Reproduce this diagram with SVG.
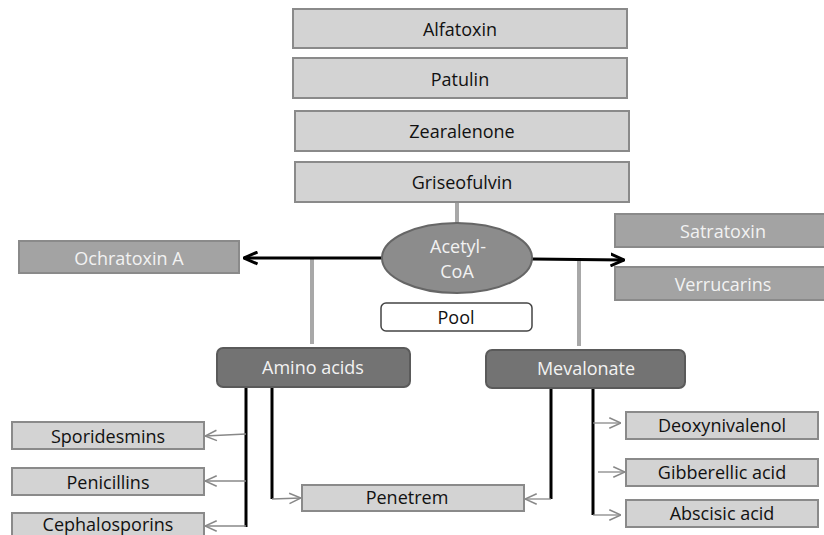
<svg xmlns="http://www.w3.org/2000/svg" width="824" height="535" viewBox="0 0 824 535">
<defs>
<style>
text{font-family:"Open Sans","Liberation Sans",sans-serif;font-size:18px;text-anchor:middle;dominant-baseline:central}
.lt{fill:#d3d3d3;stroke:#8a8a8a;stroke-width:2}
.md{fill:#a3a3a3;stroke:#8a8a8a;stroke-width:2}
.dk{fill:#737373;stroke:#5a5a5a;stroke-width:2}
.pool{fill:#fff;stroke:#444;stroke-width:1.5}
.tb{fill:#111}
.tw{fill:#f2f2f2}
.blk{stroke:#000;stroke-width:3;fill:none}
.gry{stroke:#a8a8a8;stroke-width:4;fill:none}
.thin{stroke:#888;stroke-width:1.3;fill:none}
</style>
<marker id="ab" viewBox="0 0 10 10" refX="9" refY="5" markerWidth="5" markerHeight="5" orient="auto-start-reverse" markerUnits="strokeWidth"><path d="M0,1 L9,5 L0,9" fill="none" stroke="#000" stroke-width="2"/></marker>
<marker id="ag" viewBox="0 0 10 10" refX="10" refY="5" markerWidth="10" markerHeight="10" orient="auto" markerUnits="strokeWidth"><path d="M1,1 L10,5 L1,9" fill="none" stroke="#888" stroke-width="1.2"/></marker>
</defs>
<g id="connectors">
<line class="gry" x1="457" y1="202" x2="457" y2="224"/>
<line class="gry" x1="312" y1="258" x2="312" y2="344"/>
<line class="gry" x1="579" y1="259" x2="579" y2="346"/>
<line class="blk" x1="382" y1="258" x2="244" y2="258" marker-end="url(#ab)"/>
<line class="blk" x1="532" y1="259" x2="624" y2="260" marker-end="url(#ab)"/>
<line class="blk" x1="246" y1="387" x2="246" y2="527"/>
<line class="blk" x1="272" y1="387" x2="272" y2="499"/>
<line class="blk" x1="551" y1="388" x2="551" y2="499"/>
<line class="blk" x1="593" y1="389" x2="593" y2="515"/>
<line class="thin" x1="246" y1="434" x2="205" y2="436" marker-end="url(#ag)"/>
<line class="thin" x1="246" y1="481" x2="205" y2="481" marker-end="url(#ag)"/>
<line class="thin" x1="246" y1="526" x2="205" y2="526" marker-end="url(#ag)"/>
<line class="thin" x1="272" y1="499" x2="301" y2="498" marker-end="url(#ag)"/>
<line class="thin" x1="551" y1="499" x2="525" y2="499" marker-end="url(#ag)"/>
<line class="thin" x1="593" y1="423" x2="621" y2="423" marker-end="url(#ag)"/>
<line class="thin" x1="598" y1="472" x2="625" y2="472" marker-end="url(#ag)"/>
<line class="thin" x1="593" y1="515" x2="621" y2="515" marker-end="url(#ag)"/>
</g>
<g id="alfatoxin"><rect class="lt" x="293" y="9" width="334" height="39"/><text class="tb" x="460" y="29">Alfatoxin</text></g>
<g id="patulin"><rect class="lt" x="293" y="58" width="334" height="40"/><text class="tb" x="460" y="79">Patulin</text></g>
<g id="zearalenone"><rect class="lt" x="295" y="111" width="334" height="40"/><text class="tb" x="462" y="131">Zearalenone</text></g>
<g id="griseofulvin"><rect class="lt" x="295" y="162" width="334" height="40"/><text class="tb" x="462" y="182">Griseofulvin</text></g>
<g id="acetylcoa"><ellipse cx="457" cy="258" rx="75" ry="35" fill="#8c8c8c" stroke="#666" stroke-width="2"/><text class="tw" x="458" y="246">Acetyl-</text><text class="tw" x="457" y="271">CoA</text></g>
<g id="ochratoxin"><rect class="md" x="19" y="241" width="220" height="32"/><text class="tw" x="129" y="258">Ochratoxin A</text></g>
<g id="satratoxin"><rect class="md" x="615" y="214" width="212" height="33"/><text class="tw" x="723" y="231">Satratoxin</text></g>
<g id="verrucarins"><rect class="md" x="615" y="267" width="212" height="33"/><text class="tw" x="723" y="284">Verrucarins</text></g>
<g id="pool"><rect class="pool" x="381" y="303" width="151" height="28" rx="5"/><text class="tb" x="456" y="317">Pool</text></g>
<g id="aminoacids"><rect class="dk" x="217" y="348" width="193" height="39" rx="6"/><text class="tw" x="313" y="367">Amino acids</text></g>
<g id="mevalonate"><rect class="dk" x="486" y="350" width="199" height="38" rx="6"/><text class="tw" x="586" y="368">Mevalonate</text></g>
<g id="sporidesmins"><rect class="lt" x="12" y="422" width="192" height="27"/><text class="tb" x="108" y="436">Sporidesmins</text></g>
<g id="penicillins"><rect class="lt" x="12" y="468" width="192" height="27"/><text class="tb" x="108" y="482">Penicillins</text></g>
<g id="cephalosporins"><rect class="lt" x="12" y="513" width="192" height="27"/><text class="tb" x="108" y="524">Cephalosporins</text></g>
<g id="penetrem"><rect class="lt" x="302" y="485" width="222" height="26"/><text class="tb" x="407" y="497">Penetrem</text></g>
<g id="deoxynivalenol"><rect class="lt" x="626" y="412" width="192" height="27"/><text class="tb" x="722" y="425">Deoxynivalenol</text></g>
<g id="gibberellic"><rect class="lt" x="626" y="459" width="192" height="27"/><text class="tb" x="722" y="472">Gibberellic acid</text></g>
<g id="abscisic"><rect class="lt" x="626" y="500" width="192" height="27"/><text class="tb" x="722" y="513">Abscisic acid</text></g>
</svg>
